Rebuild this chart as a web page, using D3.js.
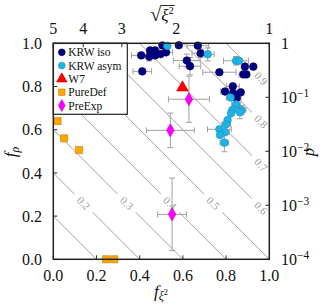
<!DOCTYPE html>
<html><head><meta charset="utf-8">
<script src="https://cdn.jsdelivr.net/npm/d3@7"></script>
<style>body{margin:0;background:#fff} svg{display:block} svg text{font-family:"Liberation Serif","DejaVu Serif",serif;}</style>
</head><body><svg id="c" width="326" height="307"></svg>
<script>
// ---------- data ----------
const fxiTicks = [0, 0.2, 0.4, 0.6, 0.8, 1.0];
const frhoTicks = [0, 0.2, 0.4, 0.6, 0.8, 1.0];
const sqrtXiTicks = [5, 4, 3, 2, 1];
const pTicks = [1e-4, 1e-3, 1e-2, 1e-1, 1];
const pTickExp = ["−4", "−3", "−2", "−1", ""];
const contourLevels = [0.2, 0.4, 0.6, 0.8, 1.0, 1.2, 1.4, 1.6, 1.8];
const contourLabels = ["", "0.2", "0.3", "0.4", "0.5", "0.6", "0.7", "0.8", "0.9"];

const krwIsoX = [0.505,0.581,0.669,0.682,0.448,0.471,0.407,0.444,0.463,0.471,0.497,0.522,0.412,0.618,0.633,0.769,0.887,0.926,0.880,0.894,0.831,0.795,0.833,0.868,0.849];
const krwIsoY = [0.990,0.991,0.989,0.954,0.967,0.967,0.944,0.938,0.955,0.944,0.950,0.958,0.870,0.920,0.894,0.866,0.892,0.892,0.856,0.856,0.801,0.777,0.770,0.773,0.747];
const krwIsoXerr = [0,0,0.05,0.04,0,0,0.045,0,0,0,0,0.03,0.043,0.062,0.05,0.077,0,0,0.02,0,0.03,0.02,0.04,0,0.02];
const krwIsoYerr = [0,0,0,0.02,0,0,0,0.02,0,0,0,0,0,0.03,0.04,0,0,0,0,0,0,0,0,0,0.02];

const krwAsymX = [0.528,0.715,0.846,0.860,0.821,0.846,0.829,0.872,0.823,0.864,0.807,0.800,0.769,0.795,0.772,0.792];
const krwAsymY = [0.988,0.949,0.919,0.919,0.749,0.717,0.691,0.691,0.676,0.681,0.645,0.625,0.602,0.588,0.575,0.540];
const krwAsymXerr = [0,0.03,0.058,0,0.02,0.02,0,0.02,0,0,0,0.02,0.055,0.02,0,0.02];
const krwAsymYerr = [0,0.03,0.02,0,0,0.02,0,0.02,0,0.03,0,0,0,0,0,0.042];

const w7X = [0.598];
const w7Y = [0.795];

const pureDefX = [0.02, 0.05, 0.119, 0.244, 0.282];
const pureDefY = [0.64, 0.56, 0.506, 0.0, 0.0];

const preExpX = [0.628, 0.542, 0.550];
const preExpY = [0.741, 0.597, 0.208];
const preExpXerr = [0.095, 0.111, 0.067];
const preExpYerr = [0.107, 0.080, 0.168];

const legendNames = ["KRW iso", "KRW asym", "W7", "PureDef", "PreExp"];

// ---------- layout ----------
const svg = d3.select("#c");
const X0 = 53.3, X1 = 269.3, Y0 = 43.3, Y1 = 259.3;
const x = d3.scaleLinear().domain([0, 1]).range([X0, X1]);
const y = d3.scaleLinear().domain([0, 1]).range([Y1, Y0]);
const xTop = d3.scaleLog().domain([5, 1]).range([X0, X1]);
const yRight = d3.scaleLog().domain([1e-4, 1]).range([Y1, Y0]);
const errColor = "#a0a0a0";

// contours
const cg = svg.append("g");
contourLevels.forEach((c, i) => {
  const a = [Math.max(0, c - 1), Math.min(1, c)];
  const b = [Math.min(1, c), Math.max(0, c - 1)];
  const lab = contourLabels[i];
  if (!lab) {
    cg.append("line").attr("x1", x(a[0])).attr("y1", y(a[1])).attr("x2", x(b[0])).attr("y2", y(b[1]))
      .attr("stroke", "#9a9a9a").attr("stroke-width", 0.9);
    return;
  }
  let lx = c <= 1.0 ? c - 0.26 : 0.962;
  let ly = c - lx;
  const gap = 0.042;
  cg.append("line").attr("x1", x(a[0])).attr("y1", y(a[1])).attr("x2", x(lx - gap)).attr("y2", y(ly + gap))
    .attr("stroke", "#9a9a9a").attr("stroke-width", 0.9);
  if (lx + gap < b[0])
    cg.append("line").attr("x1", x(lx + gap)).attr("y1", y(ly - gap)).attr("x2", x(b[0])).attr("y2", y(b[1]))
      .attr("stroke", "#9a9a9a").attr("stroke-width", 0.9);
  cg.append("text").attr("transform", `translate(${x(lx)},${y(ly)}) rotate(45)`)
    .attr("text-anchor", "middle").attr("dy", "0.35em")
    .attr("font-size", 11).attr("fill", "#a0a0a0").text(lab);
});

// error bars
function errBars(xs, ys, xe, ye) {
  const g = svg.append("g").attr("stroke", errColor).attr("stroke-width", 1);
  const cap = 3;
  xs.forEach((v, i) => {
    const px = x(v), py = y(ys[i]);
    if (xe[i] > 0) {
      const l = x(v - xe[i]), r = x(v + xe[i]);
      g.append("line").attr("x1", l).attr("x2", r).attr("y1", py).attr("y2", py);
      g.append("line").attr("x1", l).attr("x2", l).attr("y1", py - cap).attr("y2", py + cap);
      g.append("line").attr("x1", r).attr("x2", r).attr("y1", py - cap).attr("y2", py + cap);
    }
    if (ye[i] > 0) {
      const t = y(ys[i] + ye[i]), b = y(ys[i] - ye[i]);
      g.append("line").attr("y1", t).attr("y2", b).attr("x1", px).attr("x2", px);
      g.append("line").attr("y1", t).attr("y2", t).attr("x1", px - cap).attr("x2", px + cap);
      g.append("line").attr("y1", b).attr("y2", b).attr("x1", px - cap).attr("x2", px + cap);
    }
  });
}
errBars(krwIsoX, krwIsoY, krwIsoXerr, krwIsoYerr);
errBars(krwAsymX, krwAsymY, krwAsymXerr, krwAsymYerr);
errBars(preExpX, preExpY, preExpXerr, preExpYerr);

// markers
const styles = [
  { type: d3.symbolCircle, size: 46, fill: "#000080", stroke: "#00005a" },
  { type: d3.symbolCircle, size: 46, fill: "#1fb4e6", stroke: "#1a8fbf" },
  { type: d3.symbolTriangle, size: 60, fill: "#ff0000", stroke: "#cc0000" },
  { type: d3.symbolSquare, size: 52, fill: "#ffa500", stroke: "#d08000" },
  { type: d3.symbolDiamond, size: 50, fill: "#ff00ff", stroke: "#cc00cc" }
];
function drawPts(xs, ys, s) {
  const g = svg.append("g");
  g.selectAll("path").data(xs).join("path")
    .attr("d", d3.symbol().type(s.type).size(s.size))
    .attr("transform", (d, i) => `translate(${x(d)},${y(ys[i])})`)
    .attr("fill", s.fill).attr("stroke", s.stroke).attr("stroke-width", 0.6);
}
drawPts(krwIsoX, krwIsoY, styles[0]);
drawPts(krwAsymX, krwAsymY, styles[1]);
drawPts(w7X, w7Y, styles[2]);
drawPts(pureDefX, pureDefY, styles[3]);
drawPts(preExpX, preExpY, styles[4]);

// legend
const lg = svg.append("g");
lg.append("rect").attr("x", X0).attr("y", Y0).attr("width", 74).attr("height", 71)
  .attr("fill", "#fff").attr("stroke", "#222").attr("stroke-width", 1.2);
legendNames.forEach((n, i) => {
  const ly = Y0 + 9 + i * 13.3;
  const s = styles[i];
  lg.append("path").attr("d", d3.symbol().type(s.type).size(s.size * 0.8))
    .attr("transform", `translate(${X0 + 8.5},${ly})`).attr("fill", s.fill).attr("stroke", s.stroke).attr("stroke-width", 0.6);
  lg.append("text").attr("x", X0 + 15).attr("y", ly).attr("dy", "0.35em")
    .attr("font-size", 11.5).attr("fill", "#111").text(n);
});

// axes (ticks inward)
const ax = svg.append("g").attr("fill", "#111");
const tickLen = 4;
fxiTicks.forEach(t => {
  ax.append("line").attr("x1", x(t)).attr("x2", x(t)).attr("y1", Y1).attr("y2", Y1 - tickLen).attr("stroke", "#333");
  ax.append("text").attr("x", x(t)).attr("y", 281).attr("text-anchor", "middle").attr("font-size", 16).text(d3.format(".1f")(t));
});
frhoTicks.forEach(t => {
  ax.append("line").attr("x1", X0).attr("x2", X0 + tickLen).attr("y1", y(t)).attr("y2", y(t)).attr("stroke", "#333");
  ax.append("text").attr("x", 42).attr("y", y(t)).attr("dy", "0.35em").attr("text-anchor", "end").attr("font-size", 16).text(d3.format(".1f")(t));
});
sqrtXiTicks.forEach(t => {
  ax.append("line").attr("x1", xTop(t)).attr("x2", xTop(t)).attr("y1", Y0).attr("y2", Y0 + tickLen).attr("stroke", "#333");
  ax.append("text").attr("x", xTop(t)).attr("y", 33.5).attr("text-anchor", "middle").attr("font-size", 16).text(t);
});
pTicks.forEach((t, i) => {
  ax.append("line").attr("x1", X1).attr("x2", X1 - tickLen).attr("y1", yRight(t)).attr("y2", yRight(t)).attr("stroke", "#333");
  const tx = ax.append("text").attr("x", 281).attr("y", yRight(t) + 5.5).attr("font-size", 16);
  if (pTickExp[i] === "") { tx.text("1"); }
  else {
    tx.append("tspan").text("10");
    tx.append("tspan").attr("dy", -6).attr("font-size", 11.5).text(pTickExp[i]);
  }
});

// frame
svg.append("rect").attr("x", X0).attr("y", Y0).attr("width", X1 - X0).attr("height", Y1 - Y0)
  .attr("fill", "none").attr("stroke", "#222").attr("stroke-width", 1.5);

// axis labels
const xl = svg.append("text").attr("x", 161).attr("y", 297).attr("text-anchor", "middle")
  .attr("font-size", 17).attr("fill", "#111");
xl.append("tspan").attr("font-style", "italic").text("f");
xl.append("tspan").attr("font-style", "italic").attr("font-size", 12).attr("dy", 3).text("ξ");
xl.append("tspan").attr("font-size", 8.5).attr("dy", -5).text("2");

const yl = svg.append("text").attr("transform", "translate(16,152) rotate(-90)").attr("text-anchor", "middle")
  .attr("font-size", 17).attr("fill", "#111");
yl.append("tspan").attr("font-style", "italic").text("f");
yl.append("tspan").attr("font-style", "italic").attr("font-size", 12).attr("dy", 3).text("ρ");

svg.append("text").attr("transform", "translate(314,152) rotate(-90)").attr("text-anchor", "middle")
  .attr("font-size", 17).attr("font-style", "italic").attr("fill", "#111").text("p");

const tl = svg.append("text").attr("x", 162).attr("y", 21).attr("text-anchor", "middle")
  .attr("font-size", 17).attr("fill", "#111");
tl.append("tspan").attr("font-size", 20).text("√");
tl.append("tspan").attr("font-style", "italic").text("ξ");
tl.append("tspan").attr("font-size", 10.5).attr("dy", -7).text("2");
const bb = tl.node().getBBox();
const sqrtW = tl.node().getSubStringLength(0, 1);
svg.append("line").attr("x1", bb.x + sqrtW - 0.5).attr("x2", bb.x + bb.width + 1)
  .attr("y1", bb.y + 2.5).attr("y2", bb.y + 2.5).attr("stroke", "#111").attr("stroke-width", 0.9);
</script></body></html>
